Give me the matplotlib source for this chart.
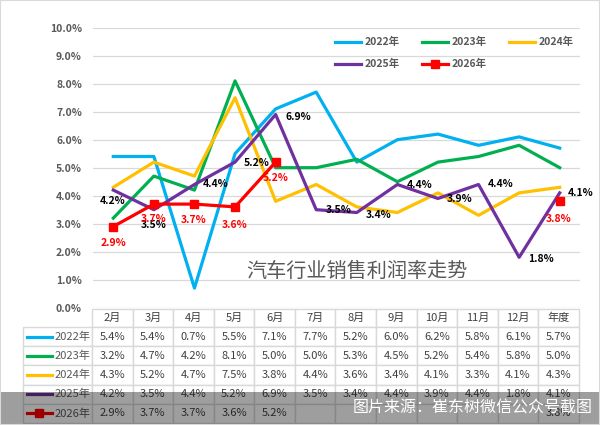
import numpy as np
import matplotlib
matplotlib.use('Agg')
import matplotlib.pyplot as plt
from matplotlib.patches import Rectangle
from matplotlib.table import Table
from matplotlib.ticker import FuncFormatter

plt.rcParams['font.family'] = ['Noto Sans CJK SC', 'DejaVu Sans']

# ==========================================
# DATA
# ==========================================
months = ['2月', '3月', '4月', '5月', '6月', '7月', '8月', '9月', '10月', '11月', '12月', '年度']
years = ['2022年', '2023年', '2024年', '2025年', '2026年']

v2022 = [5.4, 5.4, 0.7, 5.5, 7.1, 7.7, 5.2, 6.0, 6.2, 5.8, 6.1, 5.7]
v2023 = [3.2, 4.7, 4.2, 8.1, 5.0, 5.0, 5.3, 4.5, 5.2, 5.4, 5.8, 5.0]
v2024 = [4.3, 5.2, 4.7, 7.5, 3.8, 4.4, 3.6, 3.4, 4.1, 3.3, 4.1, 4.3]
v2025 = [4.2, 3.5, 4.4, 5.2, 6.9, 3.5, 3.4, 4.4, 3.9, 4.4, 1.8, 4.1]
v2026 = [2.9, 3.7, 3.7, 3.6, 5.2, None, None, None, None, None, None, 3.8]

series = [v2022, v2023, v2024, v2025, v2026]
colors = ['#00B0F0', '#00B050', '#FFC000', '#7030A0', '#FF0000']

title = '汽车行业销售利润率走势'
source = '图片来源：崔东树微信公众号截图'

# label offsets in pixels (dx right, dy down)
off_2025 = [(-1, 11), (0, 15), (21, 0), (22, 1), (23, 2), (22, 0),
            (22, 2), (22, 1), (22, 1), (22, 0), (22, 2), (21, 0)]
off_2026 = [(0, 17), (0, 15), (-1, 16), (0, 18), (0, 16), None,
            None, None, None, None, None, (-1, 18)]

# ==========================================
# LAYOUT HELPERS (pixel -> figure fraction)
# ==========================================
W, H = 600, 425


def fx(px):
    return px / W


def fy(py):
    return 1 - py / H


GRAY = '#595959'
fig = plt.figure(figsize=(6, 4.25), dpi=100, facecolor='white')

# ---- main chart ----
ax = fig.add_axes([fx(93), fy(307.7), (580 - 93) / W, (307.7 - 27.7) / H])
x = np.arange(len(months))

handles = []
for vals, c, yr in zip(series, colors, years):
    y = np.array([np.nan if v is None else v for v in vals], dtype=float)
    if yr == '2026年':
        h, = ax.plot(x, y, color=c, lw=2.3, marker='s', ms=5.5, label=yr, zorder=5)
    else:
        h, = ax.plot(x, y, color=c, lw=2.3, label=yr, zorder=3)
    handles.append(h)

for i, v in enumerate(v2025):
    dx, dy = off_2025[i]
    ax.annotate(f'{v:.1f}%', (x[i], v), xytext=(dx * 0.72, -dy * 0.72),
                textcoords='offset points', ha='center', va='center',
                fontsize=7.5, fontweight='bold', color='black', zorder=6)
for i, v in enumerate(v2026):
    if v is None:
        continue
    dx, dy = off_2026[i]
    ax.annotate(f'{v:.1f}%', (x[i], v), xytext=(dx * 0.72, -dy * 0.72),
                textcoords='offset points', ha='center', va='center',
                fontsize=7.5, fontweight='bold', color='#FF0000', zorder=6)

ax.set_xlim(-0.5, 11.5)
ax.set_ylim(0, 10)
ax.set_yticks(range(0, 11))
ax.yaxis.set_major_formatter(FuncFormatter(lambda v, p: f'{v:.1f}%'))
ax.set_xticks([])
ax.tick_params(axis='y', length=0, pad=8, labelsize=7.5, labelcolor=GRAY)
for lab in ax.get_yticklabels():
    lab.set_fontweight('bold')
ax.yaxis.grid(True, color='#D9D9D9', lw=0.9)
ax.set_axisbelow(True)
for s in ax.spines.values():
    s.set_visible(False)

# legend fills column-wise, so reorder to get rows 2022/2023/2024 then 2025/2026
order = [0, 3, 1, 4, 2]
leg = ax.legend([handles[k] for k in order], [years[k] for k in order],
                ncol=3, loc='upper left', bbox_to_anchor=(fx(335), fy(37)),
                bbox_transform=fig.transFigure, frameon=False, fontsize=7.5,
                handlelength=2.5, handletextpad=0.3, columnspacing=2.2,
                labelspacing=1.15, borderpad=0, borderaxespad=0)
for t in leg.get_texts():
    t.set_color(GRAY)
    t.set_fontweight('bold')

fig.text(fx(357), fy(271), title, ha='center', va='center',
         fontsize=14.5, color=GRAY)

# ---- data table ----
tl, tr, tt, tb = 23, 579, 309, 423
tax = fig.add_axes([fx(tl), fy(tb), (tr - tl) / W, (tb - tt) / H])
tax.axis('off')
col_w = [69] + [40.6] * len(months)
row_h = [18] + [19] * len(years)

tab = Table(tax, bbox=[0, 0, 1, 1])
edge = '#D9D9D9'
for j, m in enumerate(months):
    c = tab.add_cell(0, j + 1, width=col_w[j + 1], height=row_h[0], text=m,
                     loc='center', edgecolor=edge)
    c.get_text().set_color('#404040')
for i, (yr, vals) in enumerate(zip(years, series)):
    c = tab.add_cell(i + 1, 0, width=col_w[0], height=row_h[i + 1], text=yr,
                     loc='right', edgecolor=edge)
    c.PAD = 0.02
    c.get_text().set_color(GRAY)
    for j, v in enumerate(vals):
        txt = '' if v is None else f'{v:.1f}%'
        c = tab.add_cell(i + 1, j + 1, width=col_w[j + 1], height=row_h[i + 1],
                         text=txt, loc='center', edgecolor=edge)
        c.get_text().set_color('#404040')
tab.auto_set_font_size(False)
tab.set_fontsize(8)
tax.add_table(tab)

# legend keys inside the row-label column
tot_w, tot_h = sum(col_w), sum(row_h)
for i, c in enumerate(colors):
    yc = 1 - (row_h[0] + sum(row_h[1:i + 1]) + row_h[i + 1] / 2) / tot_h
    xs = [4 / tot_w, 29 / tot_w]
    tax.plot(xs, [yc, yc], color=c, lw=2.3, transform=tax.transAxes, clip_on=False)
    if i == 4:
        tax.plot([sum(xs) / 2], [yc], marker='s', ms=5.5, color=c,
                 transform=tax.transAxes, clip_on=False)

# ---- screenshot source band ----
fig.add_artist(Rectangle((0, 0), 1, 33 / H, transform=fig.transFigure,
                         facecolor='black', alpha=0.38, edgecolor='none', zorder=10))
fig.text(fx(593), fy(408), source, ha='right', va='center', fontsize=11.5,
         color='white', zorder=11)

fig.add_artist(Rectangle((0, 0), 1, 1, transform=fig.transFigure, fill=False,
                         edgecolor='#D9D9D9', lw=1.5, zorder=12))

fig.savefig('out.png', dpi=100, facecolor='white')
